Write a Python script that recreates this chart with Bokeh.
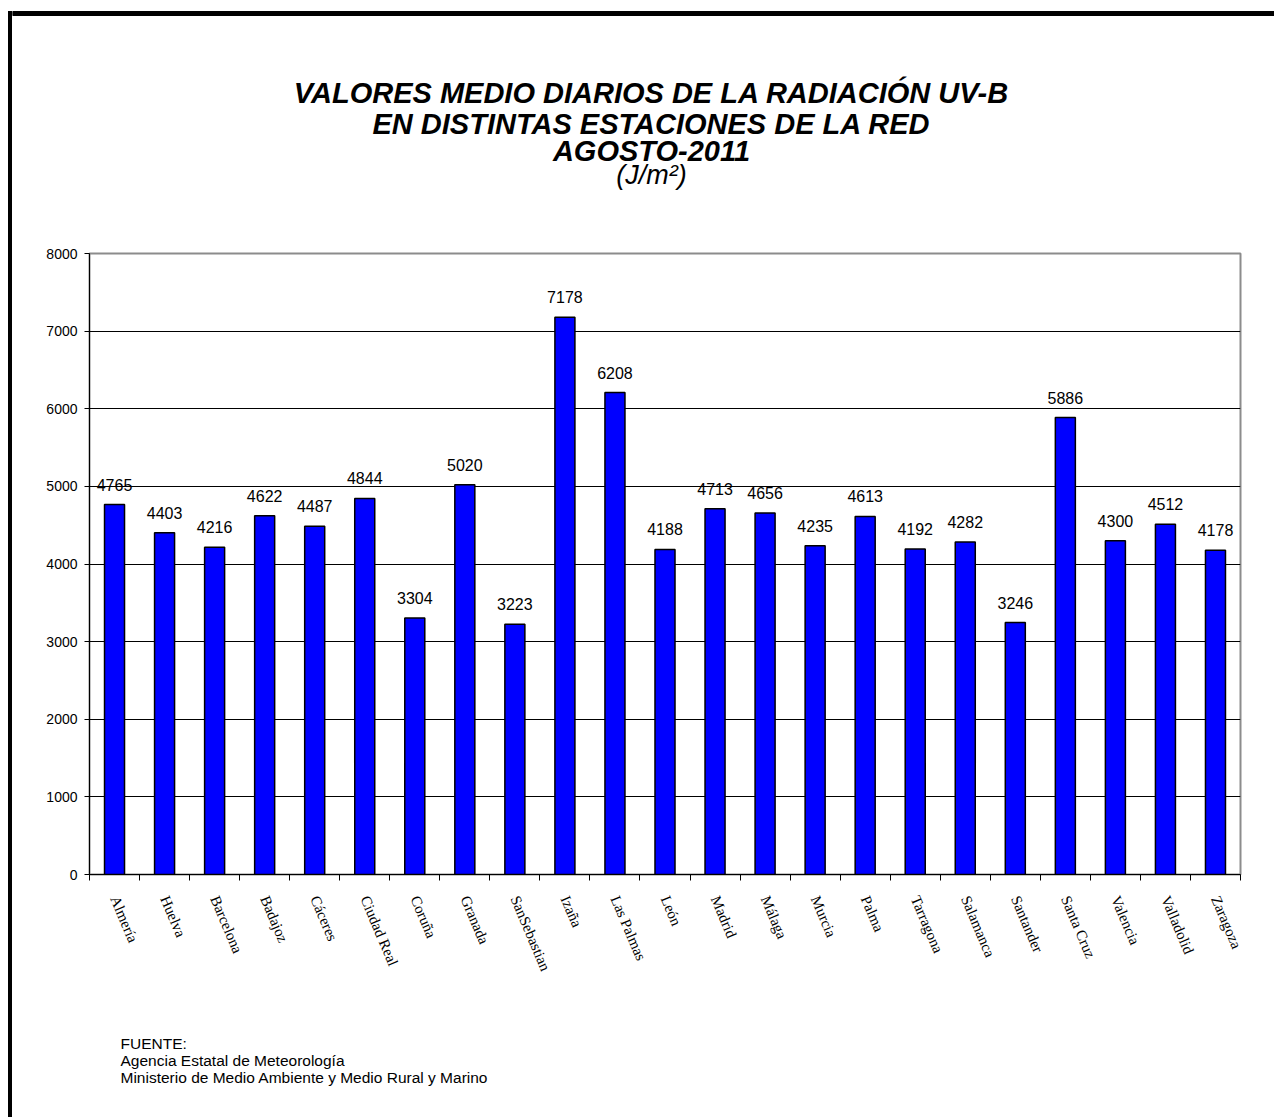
import numpy as np
from bokeh.plotting import figure
from bokeh.layouts import column, row
from bokeh.models import Range1d, FixedTicker, ColumnDataSource, Div
from bokeh.embed import file_html
from bokeh.resources import INLINE
from bokeh.core.properties import value

# ---------------- data ----------------
stations = ["Almería", "Huelva", "Barcelona", "Badajoz", "Cáceres", "Ciudad Real",
            "Coruña", "Granada", "SanSebastian", "Izaña", "Las Palmas", "León",
            "Madrid", "Málaga", "Murcia", "Palma", "Tarragona", "Salamanca",
            "Santander", "Santa Cruz", "Valencia", "Valladolid", "Zaragoza"]
uvb = [4765, 4403, 4216, 4622, 4487, 4844, 3304, 5020, 3223, 7178, 6208, 4188,
       4713, 4656, 4235, 4613, 4192, 4282, 3246, 5886, 4300, 4512, 4178]
y_ticks = [0, 1000, 2000, 3000, 4000, 5000, 6000, 7000, 8000]
title_lines = ["VALORES MEDIO DIARIOS DE LA RADIACIÓN UV-B",
               "EN DISTINTAS ESTACIONES DE LA RED",
               "AGOSTO-2011"]
unit_line = "(J/m²)"
source_lines = ["FUENTE:", "Agencia Estatal de Meteorología",
                "Ministerio de Medio Ambiente y Medio Rural y Marino"]

# ---------------- layout (page px) ----------------
PW, PH = 1274, 1117
HEAD_H = 245          # header band height
FOOT_TOP = 1020       # footer band top
STRIP_W = 12          # left strip holding the outer frame line
FL, FR, FT, FB = 89, 1240, 253, 874   # plot frame edges
BX0, BY0, BW = 8, 11, 4               # outer frame line position / width
n = len(stations)
YMAX = y_ticks[-1]
CW = PW - STRIP_W


def pixel_fig(h, y0):
    """figure whose frame fills the canvas, with page-pixel coordinates"""
    f = figure(width=CW, height=h, x_range=Range1d(STRIP_W, PW),
               y_range=Range1d(y0 + h, y0),
               output_backend="svg", toolbar_location=None, title=None,
               x_axis_location=None, y_axis_location=None, min_border=0)
    f.outline_line_color = None
    f.xgrid.visible = False
    f.ygrid.visible = False
    f.background_fill_color = "white"
    f.border_fill_color = "white"
    return f


# ---- outer frame, left side ----
left_bar = Div(width=STRIP_W, height=PH,
               text=(f'<div style="padding-left:{BX0}px;padding-top:{BY0}px;margin:0">'
                     f'<div style="width:{BW}px;height:{PH - BY0}px;background:#000"></div></div>'),
               styles={"margin": "0", "padding": "0"})

# ---- header ----
head = pixel_fig(HEAD_H, 0)
head.quad(left=[STRIP_W], right=[PW], top=[BY0], bottom=[BY0 + BW], color="black")
cx = 651
head.text(x=[cx] * 3, y=[92, 123, 150], text=title_lines, text_align="center",
          text_baseline="middle", text_font=value("Liberation Sans"),
          text_font_style="bold italic", text_font_size="29px", text_color="black")
head.text(x=[cx], y=[174], text=[unit_line], text_align="center",
          text_baseline="middle", text_font=value("Liberation Sans"),
          text_font_style="italic", text_font_size="27px", text_color="black")

# ---- main chart ----
MAIN_H = FOOT_TOP - HEAD_H
xs = np.arange(n) + 0.5
src = ColumnDataSource(dict(x=xs, v=uvb, lab=[str(v) for v in uvb], name=stations))

p = figure(width=CW, height=MAIN_H, x_range=Range1d(0, n), y_range=Range1d(0, YMAX),
           output_backend="svg", toolbar_location=None, title=None,
           min_border_left=FL - STRIP_W, min_border_right=PW - FR,
           min_border_top=FT - HEAD_H, min_border_bottom=FOOT_TOP - FB)
p.background_fill_color = "white"
p.border_fill_color = "white"
p.outline_line_color = "#8c8c8c"
p.outline_line_width = 2

p.vbar(x="x", top="v", width=0.4, source=src, fill_color="#0000FF",
       line_color="black", line_width=1.5)
p.text(x="x", y="v", text="lab", source=src, text_align="center",
       text_baseline="bottom", y_offset=-14, text_font=value("Liberation Sans"),
       text_font_size="16px", text_color="black")

p.xgrid.visible = False
p.ygrid.ticker = FixedTicker(ticks=y_ticks)
p.ygrid.grid_line_color = "black"
p.ygrid.grid_line_width = 1

p.yaxis.ticker = FixedTicker(ticks=y_ticks)
p.yaxis.minor_tick_line_color = None
p.yaxis.major_tick_in = 0
p.yaxis.major_tick_out = 5
p.yaxis.major_tick_line_color = "black"
p.yaxis.axis_line_color = "black"
p.yaxis.major_label_standoff = 7
p.yaxis.major_label_text_font = "Liberation Sans"
p.yaxis.major_label_text_font_size = "14px"
p.yaxis.major_label_text_color = "black"

p.xaxis.ticker = FixedTicker(ticks=list(xs), minor_ticks=list(range(n + 1)))
p.xaxis.major_tick_line_color = None
p.xaxis.major_tick_in = 0
p.xaxis.major_tick_out = 0
p.xaxis.minor_tick_in = 0
p.xaxis.minor_tick_out = 6
p.xaxis.minor_tick_line_color = "black"
p.xaxis.axis_line_color = "black"
p.xaxis.major_label_overrides = {float(x): s for x, s in zip(xs, stations)}
p.xaxis.major_label_orientation = -1.17
p.xaxis.major_label_standoff = 16
p.xaxis.major_label_text_font = "Liberation Serif"
p.xaxis.major_label_text_font_size = "15px"
p.xaxis.major_label_text_color = "black"

# ---- footer ----
FOOT_H = PH - FOOT_TOP
foot = pixel_fig(FOOT_H, FOOT_TOP)
foot.text(x=[120] * 3, y=[1043, 1060, 1077], text=source_lines, text_align="left",
          text_baseline="middle", text_font=value("Liberation Sans"),
          text_font_size="15.5px", text_color="black")

layout = row(left_bar,
             column(row(head, spacing=0), row(p, spacing=0), row(foot, spacing=0),
                    spacing=0),
             spacing=0)
open("out.html", "w").write(file_html(layout, INLINE))
